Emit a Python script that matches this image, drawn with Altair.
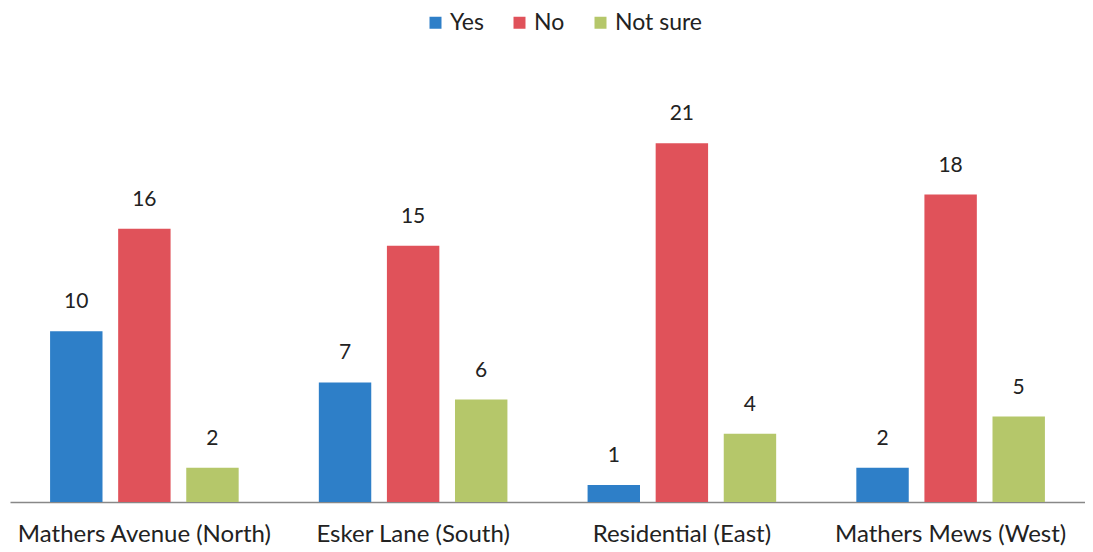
import altair as alt
import pandas as pd

categories = ["Mathers Avenue (North)", "Esker Lane (South)", "Residential (East)", "Mathers Mews (West)"]
series = ["Yes", "No", "Not sure"]
yes_vals = [10, 7, 1, 2]
no_vals = [16, 15, 21, 18]
notsure_vals = [2, 6, 4, 5]
colors = ["#2E7FC8", "#E0525A", "#B5C76A"]

rows = []
for i, c in enumerate(categories):
    for s, vals in zip(series, [yes_vals, no_vals, notsure_vals]):
        rows.append({"area": c, "answer": s, "count": vals[i]})
df = pd.DataFrame(rows)

FONT = "Lato"

x = alt.X("area:N", sort=categories, title=None,
          scale=alt.Scale(paddingInner=0.24, paddingOuter=0.12),
          axis=alt.Axis(labelAngle=0, labelFontSize=24, labelFont=FONT, labelColor="#222",
                        labelLimit=0, ticks=False, domainColor="#888", domainWidth=1.5,
                        labelPadding=20))
xo = alt.XOffset("answer:N", sort=series, scale=alt.Scale(paddingInner=0.23, paddingOuter=0.115))
y = alt.Y("count:Q", scale=alt.Scale(domain=[0, 25]), axis=None)

bars = alt.Chart(df).mark_bar().encode(
    x=x, xOffset=xo, y=y,
    color=alt.Color("answer:N", sort=series,
                    scale=alt.Scale(domain=series, range=colors),
                    legend=alt.Legend(title=None, orient="none", direction="horizontal",
                                      legendX=414, legendY=-64, symbolType="square",
                                      symbolSize=144, symbolStrokeWidth=0,
                                      labelFontSize=23, labelFont=FONT, labelColor="#222",
                                      columnPadding=24, symbolOffset=0, labelOffset=3))
)

labels = alt.Chart(df).mark_text(dy=-29, fontSize=21, font=FONT, color="#222").encode(
    x=x, xOffset=xo, y=y, text="count:Q"
)

chart = (bars + labels).properties(
    width=1075, height=427,
    autosize=alt.AutoSizeParams(type="none"),
    padding={"left": 2, "top": 67, "right": 0, "bottom": 50},
    background="white",
).configure_view(stroke=None, strokeWidth=0)

chart.save("out.html", embed_options={"renderer": "svg", "actions": False})
